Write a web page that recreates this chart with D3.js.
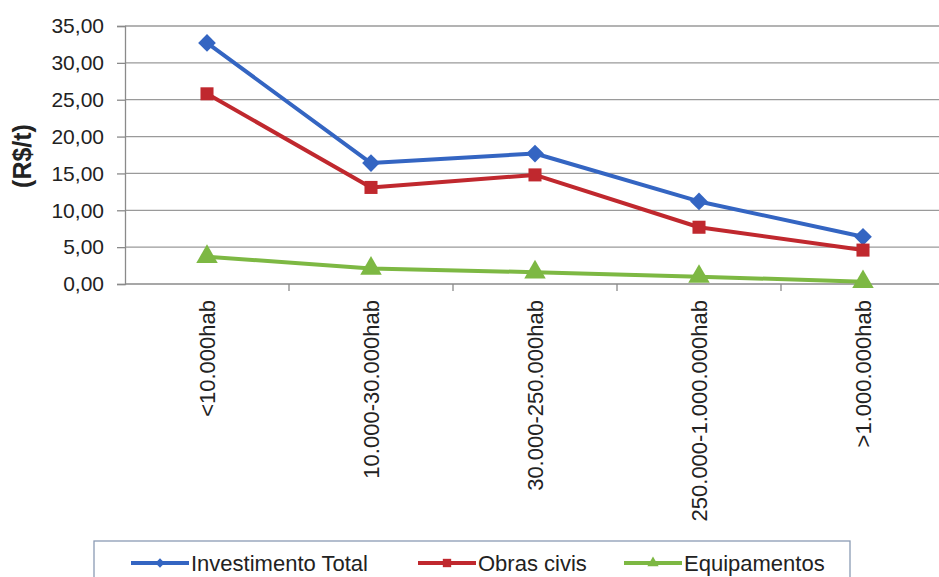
<!DOCTYPE html>
<html>
<head>
<meta charset="utf-8">
<script src="https://cdn.jsdelivr.net/npm/d3@7"></script>
<style>
  html, body { margin: 0; padding: 0; background: #fff; }
  svg { display: block; font-family: "Liberation Sans", Arial, sans-serif; }
</style>
</head>
<body>
<svg id="chart" width="939" height="577"></svg>
<script>
// Population size classes (x axis)
const categories = ["<10.000hab", "10.000-30.000hab", "30.000-250.000hab", "250.000-1.000.000hab", ">1.000.000hab"];

// Cost per tonne (R$/t) for each class
const investimentoTotal = [32.7, 16.4, 17.7, 11.2, 6.4];
const obrasCivis        = [25.8, 13.1, 14.8, 7.7, 4.6];
const equipamentos      = [3.7, 2.1, 1.6, 1.0, 0.3];

const yTicks = [0, 5, 10, 15, 20, 25, 30, 35];
const seriesNames = ["Investimento Total", "Obras civis", "Equipamentos"];
const seriesColors = ["#3465c2", "#c0282e", "#7db843"];
const seriesSymbols = [d3.symbolDiamond2, d3.symbolSquare, d3.symbolTriangle];

const series = [investimentoTotal, obrasCivis, equipamentos].map((vals, i) => ({
  name: seriesNames[i],
  color: seriesColors[i],
  symbol: seriesSymbols[i],
  values: vals
}));

const svg = d3.select("#chart");
const plot = { left: 125, right: 945, top: 26, bottom: 284 };

const x = d3.scaleBand().domain(categories).range([plot.left, plot.right]);
const y = d3.scaleLinear().domain([0, 35]).range([plot.bottom, plot.top]);
const fmt = v => d3.format(".2f")(v).replace(".", ",");

// Horizontal gridlines
svg.append("g")
  .selectAll("line")
  .data(yTicks.filter(t => t > 0))
  .join("line")
  .attr("x1", plot.left).attr("x2", plot.right)
  .attr("y1", d => y(d)).attr("y2", d => y(d))
  .attr("stroke", "#9a9a9a").attr("stroke-width", 1.3);

// Y axis
const yAxis = svg.append("g")
  .attr("transform", `translate(${plot.left},0)`)
  .call(d3.axisLeft(y).tickValues(yTicks).tickFormat(fmt).tickSize(8).tickPadding(13));
yAxis.select(".domain").attr("stroke", "#8a8a8a").attr("stroke-width", 1.3);
yAxis.selectAll(".tick line").attr("stroke", "#8a8a8a").attr("stroke-width", 1.3);
yAxis.selectAll(".tick text")
  .attr("font-size", 21).attr("fill", "#222")
  .attr("font-family", "'Liberation Sans', Arial, sans-serif");

// X axis: tick marks sit on the band boundaries, labels at band centres
const xAxisG = svg.append("g").attr("transform", `translate(0,${plot.bottom})`);
xAxisG.append("line")
  .attr("x1", plot.left).attr("x2", plot.right)
  .attr("stroke", "#8a8a8a").attr("stroke-width", 1.6);
xAxisG.selectAll("line.tick")
  .data(categories.slice(1))
  .join("line")
  .attr("class", "tick")
  .attr("x1", d => x(d)).attr("x2", d => x(d))
  .attr("y1", 0).attr("y2", 7)
  .attr("stroke", "#8a8a8a").attr("stroke-width", 1.3);
xAxisG.selectAll("text")
  .data(categories)
  .join("text")
  .attr("transform", d => `translate(${x(d) + x.bandwidth() / 2},16) rotate(-90)`)
  .attr("text-anchor", "end")
  .attr("dy", "0.35em")
  .attr("font-size", 22)
  .attr("fill", "#222")
  .text(d => d);

// Y axis title
svg.append("text")
  .attr("transform", "translate(22,156) rotate(-90)")
  .attr("text-anchor", "middle")
  .attr("dy", "0.35em")
  .attr("font-size", 25)
  .attr("font-weight", "bold")
  .attr("fill", "#222")
  .text("(R$/t)");

// Lines and markers
const cx = d => x(d) + x.bandwidth() / 2;
const line = d3.line().x((v, i) => cx(categories[i])).y(v => y(v));

const sg = svg.append("g").selectAll("g").data(series).join("g");
sg.append("path")
  .attr("d", d => line(d.values))
  .attr("fill", "none")
  .attr("stroke", d => d.color)
  .attr("stroke-width", 4)
  .attr("stroke-linejoin", "round");
sg.each(function (s) {
  d3.select(this).selectAll("path.marker")
    .data(s.values)
    .join("path")
    .attr("class", "marker")
    .attr("transform", (v, i) => `translate(${cx(categories[i])},${y(v)})`)
    .attr("d", d3.symbol().type(s.symbol).size(s.symbol === d3.symbolSquare ? 170 : 200))
    .attr("fill", s.color);
});

// Legend
const legend = svg.append("g");
legend.append("rect")
  .attr("x", 94).attr("y", 541).attr("width", 756).attr("height", 50)
  .attr("fill", "#fff").attr("stroke", "#8b9bb4").attr("stroke-width", 1.3);
const legendX = [131, 418, 624];
const items = legend.selectAll("g.item").data(series).join("g")
  .attr("class", "item")
  .attr("transform", (d, i) => `translate(${legendX[i]},563)`);
items.append("line")
  .attr("x1", 0).attr("x2", 58)
  .attr("stroke", d => d.color).attr("stroke-width", 4);
items.append("path")
  .attr("transform", "translate(29,0)")
  .attr("d", d => d3.symbol().type(d.symbol).size(d.symbol === d3.symbolSquare ? 70 : 55)())
  .attr("fill", d => d.color);
items.append("text")
  .attr("x", 60)
  .attr("dy", "0.35em")
  .attr("font-size", 22)
  .attr("fill", "#222")
  .text(d => d.name);
</script>
</body>
</html>
